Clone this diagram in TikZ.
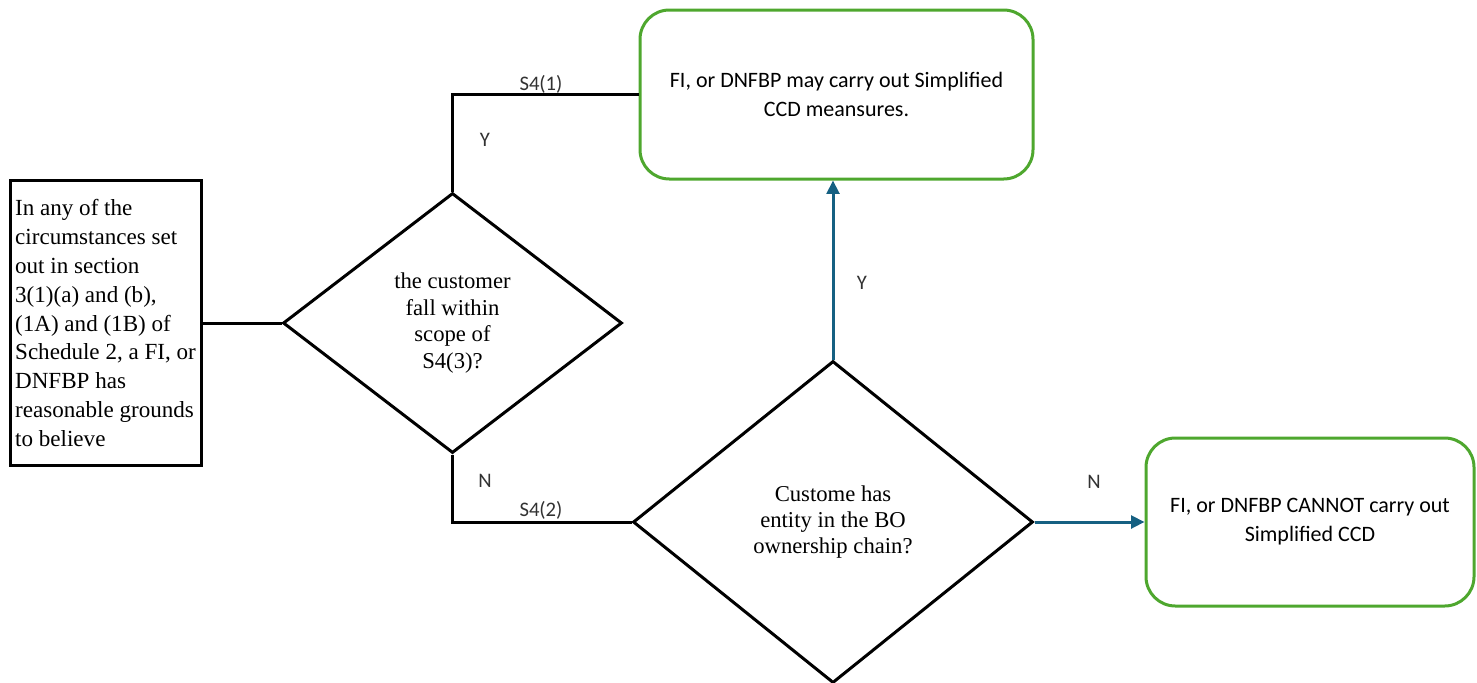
\documentclass[tikz,border=0pt]{standalone}
\usepackage{fontspec}
\setmainfont{Liberation Serif}
\newfontfamily\aptosfont{Carlito}
\usetikzlibrary{shapes.geometric,arrows.meta}
\definecolor{flowgreen}{RGB}{78,167,46}
\definecolor{flowblue}{RGB}{21,96,130}
\definecolor{labelgrey}{RGB}{50,50,50}

\begin{document}
\begin{tikzpicture}[x=0.75pt,y=0.75pt,yscale=-1,xscale=1,
  startbox/.style={draw=black, line width=2.25pt, minimum width=143.25pt, minimum height=213.75pt, inner sep=2pt, align=left, font=\fontsize{17.3}{21.6}\selectfont},
  decision/.style={diamond, draw=black, line width=2.25pt, inner sep=0pt, align=center, font=\fontsize{17}{19.8}\selectfont},
  outcome/.style={draw=flowgreen, line width=2.25pt, rounded corners=22pt, align=center, font=\aptosfont\fontsize{16.5}{21.75}\selectfont},
  branch/.style={text=labelgrey, inner sep=0.75pt, font=\aptosfont\fontsize{15.5}{18}\selectfont},
  flowline/.style={draw=black, line width=2.25pt},
  flowarrow/.style={draw=flowblue, line width=2.25pt, -{Triangle[length=10pt,width=9.5pt]}}
]
\useasboundingbox (0,0) rectangle (1477,682);

%Shape: Rectangle [start]
\node [startbox] (start) at (105.5,323) {In any of the\\circumstances set\\out in section\\3(1)(a) and (b),\\(1A) and (1B) of\\Schedule 2, a FI, or\\DNFBP has\\reasonable grounds\\to believe};
%Shape: Diamond [scope question]
\node [decision, minimum width=254.25pt, minimum height=195pt] (scope) at (452.5,323) {the customer\\fall within\\scope of\\S4(3)?};
%Shape: Diamond [entity question]
\node [decision, minimum width=300pt, minimum height=241.5pt] (entity) at (833,522) {Custome has\\entity in the BO\\ownership chain?};
%Shape: Rounded Rect [may]
\node [outcome, minimum width=294.75pt, minimum height=126.75pt] (may) at (836.5,94.5) {FI, or DNFBP may carry out Simplified\\CCD meansures.};
%Shape: Rounded Rect [cannot]
\node [outcome, minimum width=246pt, minimum height=126pt] (cannot) at (1310,522) {FI, or DNFBP CANNOT carry out\\Simplified CCD};

%Straight Lines
\draw [flowline] (start.east) -- (scope.west);
\draw [flowline] (scope.north) |- (may.west);
\draw [flowline] (scope.south) |- (entity.west);
\draw [flowarrow] (entity.north) -- (entity.north |- may.south);
\draw [flowarrow] (entity.east) -- (cannot.west);

% Text Node
\node [branch] (s41) at (541,84) {S4(1)};
% Text Node
\node [branch] (yes1) at (485,140) {Y};
% Text Node
\node [branch] (no1) at (485,481) {N};
% Text Node
\node [branch] (s42) at (541,510) {S4(2)};
% Text Node
\node [branch] (yes2) at (862,283) {Y};
% Text Node
\node [branch] (no2) at (1094,482) {N};

\end{tikzpicture}
\end{document}
